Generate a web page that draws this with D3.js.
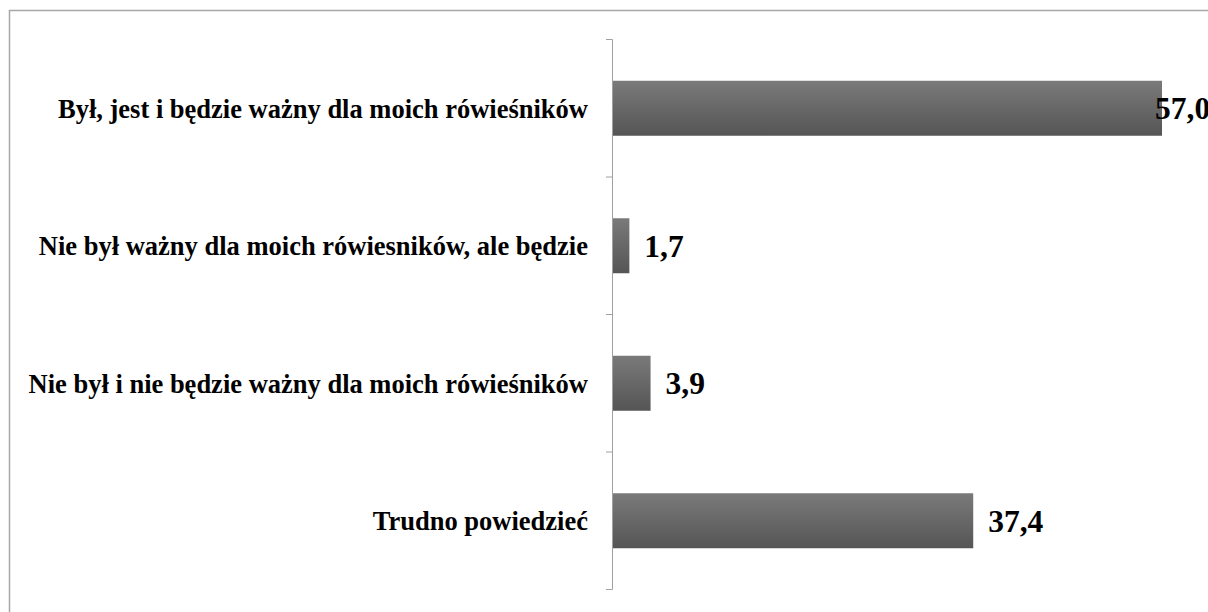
<!DOCTYPE html>
<html>
<head>
<meta charset="utf-8">
<script src="https://cdn.jsdelivr.net/npm/d3@7"></script>
<style>
  body { margin: 0; background: #fff; }
  svg { display: block; }
</style>
</head>
<body>
<div class="chart"></div>
<script>
var categories = [
  "Był, jest i będzie ważny dla moich rówieśników",
  "Nie był ważny dla moich rówiesników, ale będzie",
  "Nie był i nie będzie ważny dla moich rówieśników",
  "Trudno powiedzieć"
];
var values = [57.0, 1.7, 3.9, 37.4];
var valueLabels = ["57,0", "1,7", "3,9", "37,4"];

var w = 1208;
var h = 612;

var svg = d3.select(".chart")
  .append("svg")
  .attr("width", w)
  .attr("height", h);

// frame of the chart, runs off the right and bottom edges
svg.append("rect")
  .attr("x", 9.5).attr("y", 10.5)
  .attr("width", w + 10).attr("height", h + 10)
  .attr("fill", "none")
  .attr("stroke", "#a6a6a6")
  .attr("stroke-width", 1.5);

var defs = svg.append("defs");
var grad = defs.append("linearGradient")
  .attr("id", "barGrad")
  .attr("x1", 0).attr("y1", 0).attr("x2", 0).attr("y2", 1);
grad.append("stop").attr("offset", "0%").attr("stop-color", "#7a7a7a");
grad.append("stop").attr("offset", "100%").attr("stop-color", "#555555");

var x0 = 612;
var x = d3.scaleLinear()
  .domain([0, 57])
  .range([x0, 1161]);

var y = d3.scaleBand()
  .domain(categories)
  .range([39.5, 589.5])
  .paddingInner(0.6)
  .paddingOuter(0.3);

// axis line and ticks between categories
var axisG = svg.append("g");
axisG.append("line")
  .attr("x1", x0 + 0.5).attr("x2", x0 + 0.5)
  .attr("y1", 39.5).attr("y2", 589.5)
  .attr("stroke", "#a0a0a0").attr("stroke-width", 1);

var step = y.step();
axisG.selectAll("line.tick")
  .data(d3.range(categories.length + 1))
  .enter()
  .append("line")
  .attr("class", "tick")
  .attr("x1", x0 - 6).attr("x2", x0 + 0.5)
  .attr("y1", function(i) { return 39.5 + i * step; })
  .attr("y2", function(i) { return 39.5 + i * step; })
  .attr("stroke", "#a0a0a0").attr("stroke-width", 1);

svg.selectAll("rect.bar")
  .data(values)
  .enter()
  .append("rect")
  .attr("class", "bar")
  .attr("x", x(0) + 1)
  .attr("y", function(d, i) { return y(categories[i]); })
  .attr("width", function(d) { return x(d) - x(0); })
  .attr("height", y.bandwidth())
  .attr("fill", "url(#barGrad)");

svg.selectAll("text.cat")
  .data(categories)
  .enter()
  .append("text")
  .attr("class", "cat")
  .attr("x", 588)
  .attr("y", function(d) { return y(d) + y.bandwidth() / 2; })
  .attr("dy", "0.35em")
  .attr("text-anchor", "end")
  .attr("font-family", "'Liberation Serif', 'Times New Roman', serif")
  .attr("font-weight", "bold")
  .attr("font-size", 26.5)
  .attr("fill", "#000")
  .text(function(d) { return d; });

svg.selectAll("text.val")
  .data(values)
  .enter()
  .append("text")
  .attr("class", "val")
  .attr("x", function(d) { return Math.min(x(d) + 16, 1155); })
  .attr("y", function(d, i) { return y(categories[i]) + y.bandwidth() / 2; })
  .attr("dy", "0.35em")
  .attr("font-family", "'Liberation Serif', 'Times New Roman', serif")
  .attr("font-weight", "bold")
  .attr("font-size", 31.5)
  .attr("fill", "#000")
  .text(function(d, i) { return valueLabels[i]; });
</script>
</body>
</html>
